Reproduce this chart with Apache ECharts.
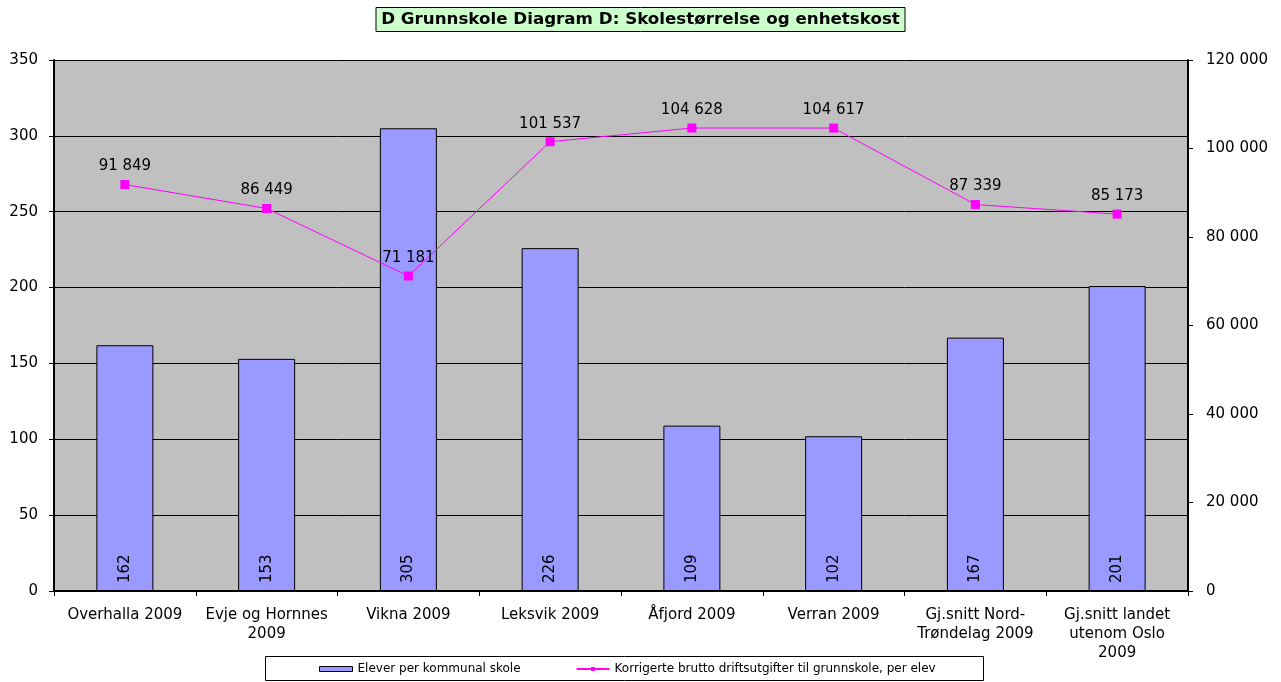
<!DOCTYPE html>
<html>
<head>
<meta charset="utf-8">
<script src="https://cdn.jsdelivr.net/npm/echarts@6/dist/echarts.min.js"></script>
<style>
  html, body { margin: 0; padding: 0; background: #fff; }
  #chart { width: 1281px; height: 682px; }
</style>
</head>
<body>
<div id="chart"></div>
<script>
// categories and values
const kommuner = [
  'Overhalla 2009',
  'Evje og Hornnes\n2009',
  'Vikna 2009',
  'Leksvik 2009',
  'Åfjord 2009',
  'Verran 2009',
  'Gj.snitt Nord-\nTrøndelag 2009',
  'Gj.snitt landet\nutenom Oslo\n2009'
];
const elever = [162, 153, 305, 226, 109, 102, 167, 201];
const utgifter = [91849, 86449, 71181, 101537, 104628, 104617, 87339, 85173];

const fmt = v => String(v).replace(/\B(?=(\d{3})+(?!\d))/g, ' ');
const font = '"DejaVu Sans", Arial, sans-serif';

const chart = echarts.init(document.getElementById('chart'));
chart.setOption({
  animation: false,
  textStyle: { fontFamily: font, color: '#000' },
  title: {
    text: 'D Grunnskole Diagram D: Skolestørrelse og enhetskost',
    left: 'center', top: 7,
    backgroundColor: '#CCFFCC', borderColor: '#000', borderWidth: 1,
    padding: [4, 5, 4, 5],
    textStyle: { fontFamily: font, fontSize: 16.7, fontWeight: 'bold', color: '#000' }
  },
  grid: {
    left: 54, right: 93, top: 60, bottom: 91,
    show: true, backgroundColor: '#C0C0C0', borderWidth: 0
  },
  legend: {
    top: 663, left: 319, itemGap: 55,
    itemWidth: 33, itemHeight: 5, padding: 0,
    textStyle: { fontFamily: font, fontSize: 12, color: '#000' },
    data: [
      { name: 'Elever per kommunal skole', icon: 'rect', itemStyle: { borderColor: '#000', borderWidth: 1 } },
      { name: 'Korrigerte brutto driftsutgifter til grunnskole, per elev' }
    ]
  },
  graphic: [{
    type: 'rect',
    shape: { x: 265.5, y: 656.5, width: 718, height: 24 },
    style: { fill: 'none', stroke: '#000', lineWidth: 1 },
    z: -1
  }],
  xAxis: {
    type: 'category', data: kommuner,
    axisLine: { lineStyle: { color: '#000', width: 2 } },
    axisTick: { show: true, interval: 0, length: 5, lineStyle: { color: '#000' } },
    axisLabel: { interval: 0, fontSize: 15, color: '#000', lineHeight: 19, margin: 15 }
  },
  yAxis: [{
    type: 'value', min: 0, max: 350, interval: 50,
    axisLine: { show: true, lineStyle: { color: '#000', width: 2 } },
    axisTick: { show: true, length: 5, lineStyle: { color: '#000' } },
    axisLabel: { fontSize: 15, color: '#000', margin: 16 },
    splitLine: { lineStyle: { color: '#000', width: 1 } }
  }, {
    type: 'value', min: 0, max: 120000, interval: 20000,
    position: 'right',
    axisLine: { show: true, lineStyle: { color: '#000', width: 2 } },
    axisTick: { show: true, length: 5, lineStyle: { color: '#000' } },
    axisLabel: { fontSize: 15, color: '#000', margin: 18, formatter: fmt },
    splitLine: { show: false }
  }],
  series: [{
    name: 'Elever per kommunal skole',
    type: 'bar', data: elever, barWidth: 57,
    itemStyle: { color: '#9999FF', borderColor: '#000', borderWidth: 1 },
    label: {
      show: true, position: 'insideBottom', rotate: 90,
      align: 'left', verticalAlign: 'middle', distance: 8,
      fontSize: 15, color: '#000'
    }
  }, {
    name: 'Korrigerte brutto driftsutgifter til grunnskole, per elev',
    type: 'line', yAxisIndex: 1, data: utgifter,
    symbol: 'rect', symbolSize: 9,
    lineStyle: { color: '#FF00FF', width: 1 },
    itemStyle: { color: '#FF00FF' },
    label: { show: true, position: 'top', distance: 6, fontSize: 15, color: '#000', formatter: p => fmt(p.value) },
    z: 3
  }]
});
</script>
</body>
</html>
